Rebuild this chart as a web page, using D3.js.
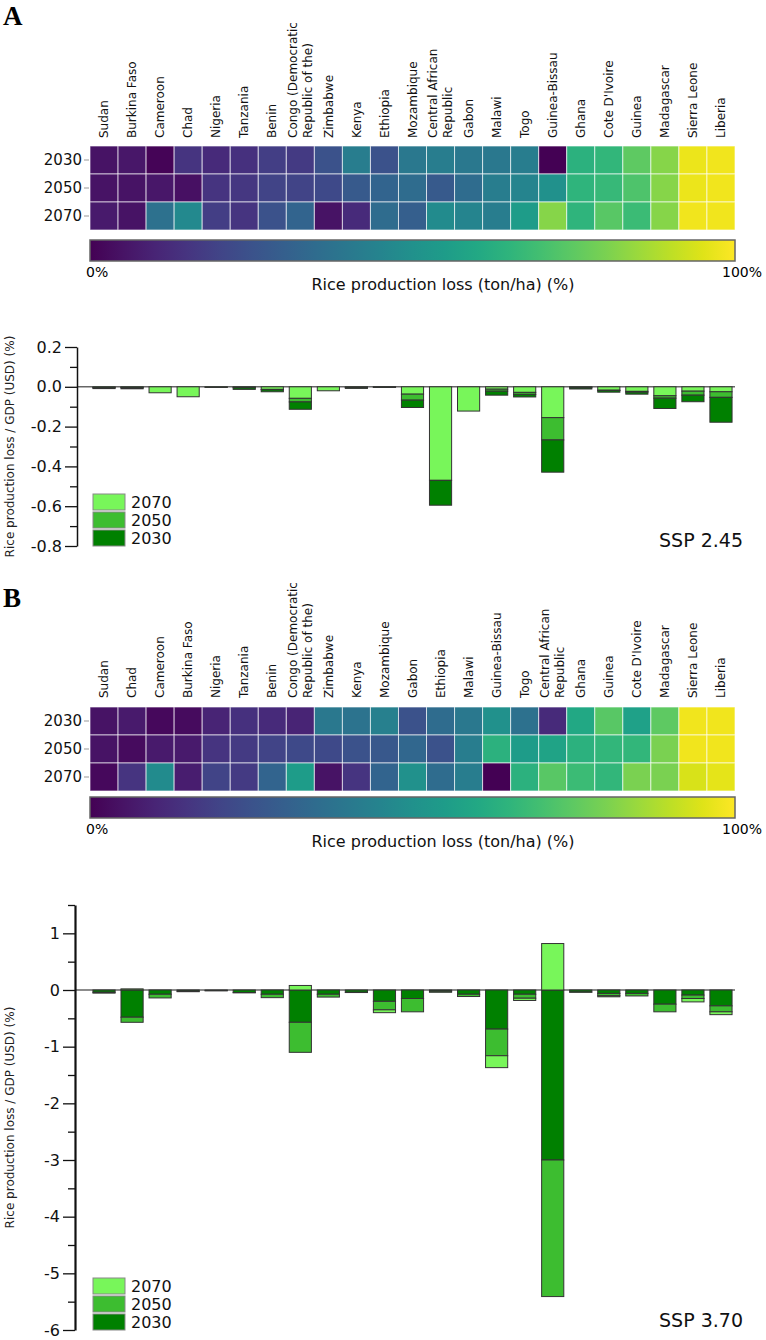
<!DOCTYPE html>
<html>
<head>
<meta charset="utf-8">
<script src="https://cdn.jsdelivr.net/npm/d3@7"></script>
<style>
  body { margin: 0; background: #fff; }
  svg { font-family: "DejaVu Sans", Verdana, sans-serif; }
</style>
</head>
<body>
<div id="chart"></div>
<script>
// countries, in the order used by each panel
const countriesA = ["Sudan", "Burkina Faso", "Cameroon", "Chad", "Nigeria", "Tanzania", "Benin",
  "Congo (Democratic Republic of the)", "Zimbabwe", "Kenya", "Ethiopia", "Mozambique",
  "Central African Republic", "Gabon", "Malawi", "Togo", "Guinea-Bissau", "Ghana",
  "Cote D'Ivoire", "Guinea", "Madagascar", "Sierra Leone", "Liberia"];
const countriesB = ["Sudan", "Chad", "Cameroon", "Burkina Faso", "Nigeria", "Tanzania", "Benin",
  "Congo (Democratic Republic of the)", "Zimbabwe", "Kenya", "Mozambique", "Gabon", "Ethiopia",
  "Malawi", "Guinea-Bissau", "Togo", "Central African Republic", "Ghana", "Guinea",
  "Cote D'Ivoire", "Madagascar", "Sierra Leone", "Liberia"];
const years = ["2030", "2050", "2070"];

// long names broken over two lines
const labelLines = {
  "Congo (Democratic Republic of the)": ["Congo (Democratic", "Republic of the)"],
  "Central African Republic": ["Central African", "Republic"]
};

// heatmap: rice production loss (ton/ha) (%), SSP 2.45
const lossA2030 = [5, 6, 1, 15, 12, 14, 18, 17, 25, 42, 25, 40, 42, 40, 40, 42, 0, 64, 66, 75, 82, 97, 98];
const lossA2050 = [5, 5, 6, 4, 15, 16, 20, 20, 22, 28, 32, 35, 28, 35, 42, 45, 50, 65, 67, 72, 82, 97, 98];
const lossA2070 = [7, 5, 37, 47, 18, 15, 25, 32, 5, 12, 35, 30, 48, 45, 42, 55, 82, 65, 74, 68, 82, 98, 98];

// heatmap: SSP 3.70
const lossB2030 = [5, 7, 2, 3, 10, 14, 12, 10, 40, 38, 43, 25, 35, 40, 50, 37, 12, 60, 74, 57, 75, 98, 98];
const lossB2050 = [5, 3, 7, 7, 15, 17, 20, 22, 22, 25, 27, 33, 25, 42, 64, 55, 58, 64, 66, 66, 80, 98, 98];
const lossB2070 = [2, 15, 48, 8, 20, 17, 32, 55, 5, 15, 32, 50, 35, 42, 0, 64, 74, 68, 66, 80, 80, 94, 96];

// bars: rice production loss / GDP (USD) (%), stacked pieces, SSP 2.45
const gdpA2070 = [-0.003, -0.003, -0.03, -0.05, -0.002, -0.002, -0.013, -0.058, -0.02, -0.002, -0.001, -0.037,
  -0.47, -0.122, -0.012, -0.028, -0.155, -0.002, -0.017, -0.023, -0.045, -0.022, -0.025];
const gdpA2050 = [-0.002, -0.002, 0, 0, 0, -0.003, -0.002, -0.018, 0, -0.002, -0.001, -0.03,
  0, 0, -0.01, -0.01, -0.112, -0.003, -0.002, -0.004, -0.012, -0.02, -0.028];
const gdpA2030 = [-0.004, -0.005, 0, 0, -0.001, -0.008, -0.01, -0.037, 0, -0.004, -0.001, -0.037,
  -0.125, 0, -0.02, -0.013, -0.162, -0.006, -0.008, -0.01, -0.052, -0.033, -0.125];

// bars: SSP 3.70
const gdpB2030 = [-0.04, -0.48, -0.075, -0.02, -0.01, -0.045, -0.075, -0.57, -0.075, -0.04, -0.2, -0.15,
  -0.02, -0.075, -0.69, -0.075, -3.0, -0.035, -0.06, -0.06, -0.25, -0.09, -0.28];
const gdpB2050 = [-0.015, -0.09, -0.065, -0.01, -0.005, -0.005, -0.06, -0.53, -0.05, -0.005, -0.15, -0.235,
  -0.02, -0.04, -0.47, -0.07, -2.41, -0.005, -0.04, -0.045, -0.135, -0.06, -0.105];
const gdpB2070 = [0, 0.02, 0, 0, 0, 0, 0, 0.08, 0, 0, -0.05, 0,
  0, 0, -0.21, -0.04, 0.82, 0, -0.02, 0, 0, -0.06, -0.05];

// axis ticks
const ticksA = [0.2, 0.0, -0.2, -0.4, -0.6, -0.8];
const minorA = [0.1, -0.1, -0.3, -0.5, -0.7];
const ticksB = [1, 0, -1, -2, -3, -4, -5, -6];
const minorB = [1.5, 0.5, -0.5, -1.5, -2.5, -3.5, -4.5, -5.5];

const yearColors = {"2070": "#78f65a", "2050": "#3dbd30", "2030": "#008000"};
const legendYears = ["2070", "2050", "2030"];

const svg = d3.select("#chart").append("svg")
    .attr("width", 766)
    .attr("height", 1340);

// viridis gradient for the colour bars
const grad = svg.append("defs").append("linearGradient")
    .attr("id", "viridis");
grad.selectAll("stop")
  .data(d3.range(0, 1.0001, 0.05))
  .join("stop")
    .attr("offset", d => d * 100 + "%")
    .attr("stop-color", d => d3.interpolateViridis(d));

function drawHeatmap(countries, r2030, r2050, r2070, lay) {
  const g = svg.append("g");
  const rows = {"2030": r2030, "2050": r2050, "2070": r2070};
  const x = d3.scaleBand().domain(countries).range([90, 735]);
  const y = d3.scaleBand().domain(years).range([lay.cellTop, lay.cellTop + 84]);
  const color = d3.scaleSequential(d3.interpolateViridis).domain([0, 100]);

  const cells = years.flatMap(yr => countries.map((c, i) => ({country: c, year: yr, value: rows[yr][i]})));

  g.selectAll("rect.cell")
    .data(cells)
    .join("rect")
      .attr("class", "cell")
      .attr("x", d => x(d.country))
      .attr("y", d => y(d.year))
      .attr("width", x.bandwidth())
      .attr("height", y.bandwidth())
      .attr("fill", d => color(d.value))
      .attr("stroke", "rgba(255,255,255,0.65)")
      .attr("stroke-width", 1);

  // column labels, rotated
  const lab = g.selectAll("g.collabel")
    .data(countries)
    .join("g")
      .attr("class", "collabel")
      .attr("transform", d => `translate(${x(d) + x.bandwidth() / 2}, ${lay.labelBottom}) rotate(-90)`);
  lab.each(function(d) {
    const lines = labelLines[d] || [d];
    const t = d3.select(this).append("text")
        .attr("font-size", 12)
        .attr("fill", "#111");
    lines.forEach((ln, i) => {
      t.append("tspan")
        .attr("x", 0)
        .attr("y", lines.length === 1 ? 4.2 : -3.3 + i * 15)
        .text(ln);
    });
  });

  // row labels
  g.selectAll("text.rowlabel")
    .data(years)
    .join("text")
      .attr("class", "rowlabel")
      .attr("x", 82)
      .attr("y", d => y(d) + y.bandwidth() / 2)
      .attr("dy", "0.35em")
      .attr("text-anchor", "end")
      .attr("font-size", 15)
      .attr("fill", "#111")
      .text(d => d);
  g.selectAll("line.rowtick")
    .data(years)
    .join("line")
      .attr("class", "rowtick")
      .attr("x1", 84).attr("x2", 89)
      .attr("y1", d => y(d) + y.bandwidth() / 2)
      .attr("y2", d => y(d) + y.bandwidth() / 2)
      .attr("stroke", "#999");

  // colour bar
  g.append("rect")
      .attr("x", 90)
      .attr("y", lay.cbarTop)
      .attr("width", 645)
      .attr("height", 21)
      .attr("fill", "url(#viridis)")
      .attr("stroke", "#666")
      .attr("stroke-width", 1.5);
  g.append("text")
      .attr("x", 86).attr("y", lay.cbarTop + 37)
      .attr("font-size", 14)
      .text("0%");
  g.append("text")
      .attr("x", 762).attr("y", lay.cbarTop + 37)
      .attr("text-anchor", "end")
      .attr("font-size", 14)
      .text("100%");
  g.append("text")
      .attr("x", 443).attr("y", lay.cbarTop + 50)
      .attr("text-anchor", "middle")
      .attr("font-size", 16)
      .attr("fill", "#111")
      .text("Rice production loss (ton/ha) (%)");
}

function drawBars(countries, v2030, v2050, v2070, order, lay) {
  const g = svg.append("g");
  const data = countries.map((c, i) => ({country: c, "2030": v2030[i], "2050": v2050[i], "2070": v2070[i]}));
  const series = d3.stack().keys(order).offset(d3.stackOffsetDiverging)(data);

  const x = d3.scaleBand().domain(countries).range([90, 735]).paddingInner(0.21).paddingOuter(0.105);
  const y = d3.scaleLinear().domain(lay.domain).range(lay.range);

  // zero line
  g.append("line")
      .attr("x1", lay.axisX).attr("x2", 735)
      .attr("y1", y(0)).attr("y2", y(0))
      .attr("stroke", "#666")
      .attr("stroke-width", 1.5);

  g.selectAll("g.series")
    .data(series)
    .join("g")
      .attr("class", "series")
      .attr("fill", d => yearColors[d.key])
    .selectAll("rect")
    .data(d => d)
    .join("rect")
      .attr("x", d => x(d.data.country))
      .attr("y", d => y(Math.max(d[0], d[1])))
      .attr("width", x.bandwidth())
      .attr("height", d => Math.abs(y(d[0]) - y(d[1])))
      .attr("stroke", "#333")
      .attr("stroke-width", 1);

  // axis with major and minor ticks
  const axis = g.append("g")
      .attr("transform", `translate(${lay.axisX},0)`)
      .call(d3.axisLeft(y).tickValues(lay.ticks).tickFormat(lay.fmt).tickSize(12).tickSizeOuter(0).tickPadding(3));
  axis.selectAll("text").attr("font-size", 16).attr("font-family", "DejaVu Sans").attr("fill", "#111");
  axis.selectAll("line").attr("stroke", "#111").attr("stroke-width", 1.3);
  axis.select(".domain").attr("stroke", "#111").attr("stroke-width", lay.axisW);
  const minor = g.append("g")
      .attr("transform", `translate(${lay.axisX},0)`)
      .call(d3.axisLeft(y).tickValues(lay.minor).tickFormat("").tickSize(7));
  minor.select(".domain").remove();
  minor.selectAll("line").attr("stroke", "#111").attr("stroke-width", 1.3);

  // y label
  const mid = (lay.range[0] + lay.range[1]) / 2;
  g.append("text")
      .attr("transform", `translate(14, ${mid}) rotate(-90)`)
      .attr("text-anchor", "middle")
      .attr("font-size", 12)
      .attr("fill", "#222")
      .text("Rice production loss / GDP (USD) (%)");

  // legend
  const bottom = lay.range[1];
  const leg = g.selectAll("g.legend")
    .data(legendYears)
    .join("g")
      .attr("class", "legend")
      .attr("transform", (d, i) => `translate(93, ${bottom - 52 + i * 18})`);
  leg.append("rect")
      .attr("width", 32).attr("height", 16)
      .attr("fill", d => yearColors[d])
      .attr("stroke", "#888");
  leg.append("text")
      .attr("x", 38).attr("y", 14)
      .attr("font-size", 16)
      .attr("fill", "#111")
      .text(d => d);

  g.append("text")
      .attr("x", 743).attr("y", lay.sspY)
      .attr("text-anchor", "end")
      .attr("font-size", 19)
      .attr("fill", "#111")
      .text(lay.ssp);
}

// panel letters
svg.append("text").attr("x", 3).attr("y", 25)
    .attr("font-family", "Liberation Serif").attr("font-weight", "bold").attr("font-size", 27)
    .text("A");
svg.append("text").attr("x", 3).attr("y", 607)
    .attr("font-family", "Liberation Serif").attr("font-weight", "bold").attr("font-size", 27)
    .text("B");

drawHeatmap(countriesA, lossA2030, lossA2050, lossA2070, {labelBottom: 138, cellTop: 146, cbarTop: 240});
drawBars(countriesA, gdpA2030, gdpA2050, gdpA2070, ["2070", "2050", "2030"], {
  domain: [0.2, -0.8], range: [347, 546], axisX: 77, axisW: 1.5,
  ticks: ticksA, minor: minorA, fmt: d => d.toFixed(1), ssp: "SSP 2.45", sspY: 547
});

drawHeatmap(countriesB, lossB2030, lossB2050, lossB2070, {labelBottom: 698, cellTop: 707, cbarTop: 797});
drawBars(countriesB, gdpB2030, gdpB2050, gdpB2070, ["2030", "2050", "2070"], {
  domain: [1.5, -6], range: [905, 1330], axisX: 75, axisW: 2.2,
  ticks: ticksB, minor: minorB, fmt: d => String(d), ssp: "SSP 3.70", sspY: 1327
});
</script>
</body>
</html>
